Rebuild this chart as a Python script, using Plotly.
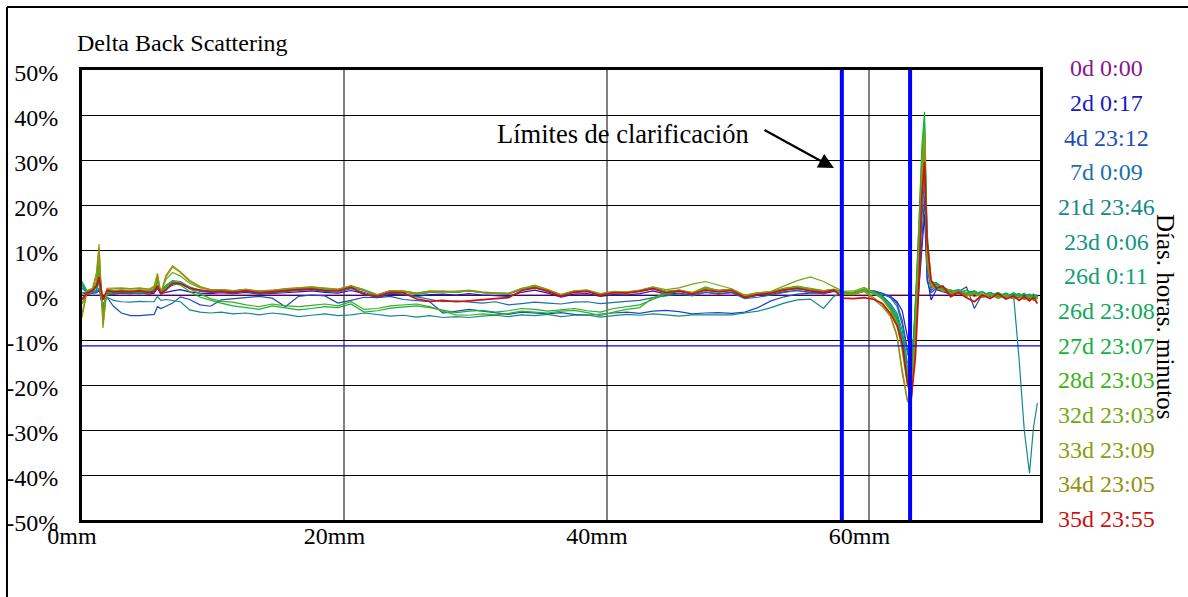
import plotly.graph_objects as go

# Position along the sample (mm)
X_MM = [
    0.0, 0.4, 0.8, 1.1, 1.3, 1.45, 1.6, 1.9, 2.4, 3.0, 3.7, 4.4, 5.1, 5.5, 5.75, 6.0, 6.4, 6.9, 7.5, 8.2, 9.0, 9.8,
    10.6, 11.5, 12.5, 13.5, 14.5, 15.5, 16.5, 17.5, 18.5, 19.5, 20.5, 21.5, 22.5, 23.5, 24.5, 25.5, 26.5, 27.5,
    28.5, 29.5, 30.5, 31.5, 32.5, 33.5, 34.5, 35.5, 36.5, 37.5, 38.5, 39.5, 40.5, 41.5, 42.5, 43.5, 44.5, 45.5,
    46.5, 47.5, 48.5, 49.5, 50.5, 51.5, 52.5, 53.5, 54.5, 55.5, 56.5,
    57.3, 58.0, 58.8, 59.6, 60.4, 61.0, 61.6, 62.1, 62.5, 62.9, 63.2, 63.5, 63.8, 64.0, 64.2, 64.4, 64.7, 65.1,
    65.6, 66.2, 66.8, 67.4, 68.0, 68.6, 69.2, 69.8, 70.4, 71.0, 71.4, 71.8, 72.2, 72.5, 72.8,
]

# Reference scan (delta is zero by definition)
REF_X_MM = [0.0, 72.8]
S_0D_0000 = [0.0, 0.0]

S_2D_0017 = [
    0.5, 0.2, 0.4, 0.5, 1.0, 0.3, -0.5, 0.3, 0.2, 0.4, 0.3, 0.5, 0.2, 0.4, 1.5, 0.2, 0.6, 0.9, 1.2, 0.7, 0.4, 0.3,
    0.5, 0.3, 0.6, 0.2, 0.3, 0.5, 0.7, 0.9, 0.6, 0.4, 1.0, 0.3, -0.6, 0.2, 0.1, -0.3, 0.1, 0.2, 0.0, 0.3,
    0.0, -0.2, -0.3, 0.6, 1.1, 0.4, -0.5, 0.2, 0.3, -0.3, 0.1, 0.0, 0.3, 0.9, 0.2, 0.4, -0.1, 0.6, 0.3, 0.6,
    -0.6, -0.1, 0.1, 0.7, 1.0, 0.6, 0.3,
    0.8, 0.5, 0.6, 0.9, 0.6, 0.3, -0.3, -1.5, -3.5, -9.3, -13.7, -9.0, 3.0, 10.0, 18.0, 4.0, -1.1, 1.2, 0.8, 0.2,
    0.5, -0.2, 0.3, -0.5, 0.0, -0.6, -0.2, -0.8, -0.3, -0.9, -0.4, -1.0, -0.6,
]

S_4D_2312 = [
    -1.0, 0.3, 0.5, 0.5, 1.0, 0.0, -1.0, -0.5, -2.5, -4.0, -4.6, -4.6, -4.4, -4.3, -2.6, -3.0, -2.5, -1.8, -0.4, -1.0, -2.2, -2.5,
    -1.1, -0.8, -0.5, -0.3, -0.7, -2.6, -0.3, 0.0, -0.2, -1.8, -1.2, -0.5, -0.6, -0.3, -1.0, -1.2, -1.5, -4.0, -3.6, -3.2,
    -3.6, -4.0, -4.3, -3.8, -4.0, -4.2, -3.9, -4.3, -4.5, -4.2, -4.0, -3.8, -4.1, -3.6, -3.4, -3.7, -4.2, -4.0, -3.9, -4.1,
    -3.8, -2.8, -1.3, -0.4, 0.2, 0.4, 0.6,
    1.0, 0.6, 0.5, 1.0, 0.9, 0.4, -0.4, -1.9, -5.6, -12.2, -17.0, -7.0, 4.0, 12.0, 22.0, 3.0, 0.5, 1.5, 1.0, 0.3,
    0.8, 1.8, -3.0, 0.2, -0.3, 0.4, -0.5, 0.1, -0.6, -0.2, -0.9, -0.3, -0.7,
]

S_7D_0009 = [
    -2.0, 0.5, 0.8, 0.6, 1.5, -0.5, -1.0, 0.0, 0.3, 0.5, 0.4, 0.3, 0.5, 0.6, 1.8, 0.8, 1.5, 2.2, 2.5, 1.5, 0.8, 0.6,
    0.7, 0.4, 0.8, 0.3, 0.5, 0.8, 1.0, 1.2, 0.8, 0.6, 1.4, 0.6, -0.4, 0.4, 0.2, -0.4, -1.0, -1.5, -1.3, -1.6,
    -1.8, -1.5, -2.2, -1.9, -1.6, -1.8, -2.0, -1.6, -1.5, -1.9, -1.6, -1.4, -1.2, -0.6, -0.2, 0.3, -0.2, 0.7, 0.2, 0.5,
    -0.8, -0.5, 0.0, 0.6, 1.0, 0.5, 0.4,
    1.2, 0.7, 0.4, 1.1, 0.8, 0.2, -0.6, -2.5, -6.5, -13.0, -15.0, -5.0, 8.0, 18.0, 26.0, 6.0, 1.0, 2.0, 1.2, 0.6,
    1.0, 0.2, 0.6, -0.4, 0.5, -0.2, 0.3, -0.5, 0.2, -0.6, 0.0, -0.7, -0.2,
]

S_21D_2346 = [
    2.5, 0.2, 0.5, 1.0, 3.0, -1.0, -2.0, -0.5, -1.2, -1.5, -1.6, -1.4, -1.5, -1.5, -0.3, -1.2, -1.0, -1.2, -1.5, -3.3, -3.8, -4.0,
    -3.8, -4.2, -4.0, -4.4, -4.0, -4.3, -4.8, -4.5, -4.2, -4.6, -4.4, -4.0, -4.3, -4.7, -4.5, -4.9, -4.6, -5.0, -4.8, -5.0,
    -4.7, -4.5, -4.8, -4.4, -4.6, -4.3, -4.8, -4.5, -4.4, -4.9, -4.6, -4.3, -4.5, -4.2, -4.4, -4.7, -4.4, -4.4, -4.3, -4.4,
    -4.0, -3.6, -2.8, -1.8, -1.1, -0.9, -3.0,
    -0.3, 0.5, 0.2, 0.8, 0.5, -0.2, -1.9, -4.0, -7.8, -15.0, -16.0, -3.0, 10.0, 22.0, 29.0, 7.0, 1.5, 2.4, 1.8, 0.8,
    1.2, 0.4, 0.9, 0.0, 0.6, -0.3, 0.4, -0.5, -14.0, -30.0, -39.6, -29.5, -24.0,
]

S_23D_0006 = [
    1.5, 0.5, 0.8, 1.0, 3.5, -1.0, -2.5, 0.0, 0.4, 0.6, 0.5, 0.7, 0.4, 0.8, 2.0, 1.0, 2.2, 3.2, 3.0, 1.8, 1.0, 0.8,
    1.1, 0.8, 1.2, 0.7, 0.9, 1.3, 1.4, 1.6, 1.1, 1.1, 1.7, 1.0, -0.1, 0.9, 0.7, 0.3, 0.7, 0.8, 0.6, 1.0,
    0.6, 0.4, 0.3, 1.3, 1.6, 1.1, 0.0, 0.8, 1.0, 0.2, 0.6, 0.6, 0.9, 1.4, 0.8, 1.0, 0.5, 1.3, 1.0, 1.2,
    -0.2, 0.4, 0.6, 1.1, 1.4, 1.2, 0.8,
    1.1, 0.6, 0.5, 1.0, 0.6, -0.3, -2.2, -4.5, -9.0, -16.0, -18.0, -4.0, 13.0, 26.0, 33.0, 9.0, 2.5, 2.8, 1.5, 1.0,
    0.4, 1.0, 0.2, 0.7, -0.2, 0.5, -0.4, 0.3, -0.5, 0.2, -0.6, 0.1, -0.5,
]

S_26D_0011 = [
    2.0, 0.6, 0.9, 1.5, 4.5, -0.5, -3.0, 0.5, 0.6, 0.8, 0.7, 0.9, 0.6, 0.9, 2.2, 0.7, 2.0, 3.0, 2.6, 1.6, 1.1, 0.9,
    1.0, 0.9, 1.1, 0.8, 0.8, 1.2, 1.5, 1.7, 1.3, 1.0, 1.9, 1.1, 0.0, 0.8, 0.8, 0.2, 0.6, 0.7, 0.7, 0.9,
    0.5, 0.3, 0.2, 1.4, 1.7, 1.0, -0.1, 0.7, 0.9, 0.1, 0.7, 0.5, 1.0, 1.6, 0.7, 1.1, 0.4, 1.4, 0.9, 1.3,
    -0.3, 0.3, 0.5, 1.3, 1.5, 1.1, 0.7,
    1.0, 0.4, 0.3, 0.9, 0.4, -0.5, -2.6, -5.0, -9.5, -17.0, -19.5, -4.0, 14.0, 28.0, 35.0, 10.0, 2.0, 2.6, 1.4, 0.7,
    1.1, 0.3, 0.8, -0.1, 0.6, -0.4, 0.3, -0.3, 0.4, -0.5, 0.1, -0.6, -0.2,
]

S_26D_2308 = [
    3.0, 0.8, 1.0, 2.0, 5.5, 0.0, -3.5, 0.8, 0.8, 1.0, 0.8, 1.0, 0.7, 1.2, 3.5, 0.5, 1.8, 2.8, 2.4, 1.5, 1.0, 0.9,
    1.2, 0.8, 1.2, 0.7, 1.0, 1.2, 1.4, 1.6, 1.4, 1.1, 2.0, 1.0, -0.2, 0.8, 0.7, 0.2, 0.6, 0.8, 0.6, 0.9,
    0.5, 0.4, 0.2, 1.3, 2.0, 1.0, 0.0, 0.7, 0.9, 0.1, 0.6, 0.5, 0.9, 1.7, 0.7, 1.0, 0.4, 1.5, 1.0, 1.2,
    -0.3, 0.3, 0.6, 1.4, 1.7, 1.2, 0.9,
    1.2, 0.5, 0.4, 1.2, 0.3, -0.7, -2.8, -5.2, -10.0, -17.5, -20.0, -3.0, 17.0, 31.0, 38.0, 12.0, 2.5, 2.2, 1.8, 0.6,
    1.0, 0.2, 0.9, -0.2, 0.5, -0.5, 0.4, -0.4, 0.3, -0.6, 0.2, -0.5, 0.0,
]

S_27D_2307 = [
    0.5, 0.6, 1.2, 2.5, 7.5, 0.0, -4.5, 0.5, 0.6, 0.8, 0.7, 0.8, 0.6, 1.0, 3.0, 0.4, 1.6, 2.6, 2.2, 0.8, -0.5, -1.2,
    -1.8, -2.4, -2.8, -3.2, -2.4, -2.9, -3.3, -3.0, -2.6, -2.8, -2.0, -3.8, -3.5, -2.9, -2.7, -2.4, -2.8, -3.4, -3.9, -3.6,
    -3.4, -3.8, -3.5, -3.0, -3.2, -3.6, -3.3, -3.0, -3.5, -3.8, -3.0, -2.6, -2.2, -1.0, 0.2, 0.8, 0.3, 1.2, 0.8, 1.0,
    -0.2, 0.4, 0.5, 1.2, 1.4, 1.0, 0.8,
    1.0, 0.4, 0.3, 1.0, 0.2, -0.8, -3.0, -5.5, -10.5, -18.0, -21.0, -4.0, 18.0, 33.0, 40.7, 14.0, 3.0, 2.6, 1.6, 1.0,
    0.5, 1.1, 0.3, 0.8, -0.2, 0.6, -0.3, 0.5, -0.2, 0.4, -0.5, 0.2, -0.4,
]

S_28D_2303 = [
    -1.0, 0.7, 1.0, 2.0, 6.0, 0.0, -4.0, 0.5, 0.7, 0.9, 0.8, 1.0, 0.8, 1.2, 3.5, 0.6, 2.0, 3.0, 2.5, 1.4, 0.2, -0.8,
    -1.4, -1.6, -2.2, -2.6, -2.0, -2.4, -2.6, -2.3, -2.0, -2.4, -1.5, -3.2, -3.0, -2.4, -2.2, -2.0, -2.6, -3.6, -4.4, -4.5,
    -4.2, -4.4, -4.1, -3.6, -3.8, -4.0, -3.6, -3.4, -3.9, -4.6, -3.8, -3.2, -2.8, -0.6, 0.4, 1.0, 0.5, 1.8, 1.0, 1.1,
    -0.1, 0.5, 0.7, 1.5, 2.0, 1.5, 1.0,
    1.3, 0.6, 0.6, 1.4, 0.3, -0.9, -3.2, -6.0, -11.5, -19.0, -21.5, -6.0, 15.0, 30.0, 37.0, 10.0, 2.5, 2.0, 1.2, 0.5,
    0.9, -0.1, 0.6, -0.4, 0.3, -0.6, 0.1, -0.7, 0.0, -0.8, -0.3, -1.0, -0.5,
]

S_32D_2303 = [
    -2.0, 0.8, 1.2, 3.0, 8.5, 1.0, -5.0, 1.0, 1.0, 1.2, 1.0, 1.2, 1.0, 1.5, 4.0, 0.5, 3.5, 5.0, 4.2, 2.6, 1.6, 1.2,
    1.2, 0.9, 1.3, 0.8, 1.0, 1.4, 1.6, 1.8, 1.4, 1.2, 2.0, 1.1, 0.0, 1.0, 0.8, 0.4, 0.8, 0.8, 0.7, 1.0,
    0.6, 0.4, 0.3, 1.4, 2.2, 1.2, 0.1, 0.9, 1.1, 0.3, 0.8, 0.7, 1.1, 1.8, 1.2, 1.6, 2.4, 3.0, 2.2, 1.4,
    0.0, 0.5, 0.8, 2.0, 3.2, 4.0, 3.0,
    1.8, 0.8, 0.9, 1.7, 0.5, -1.0, -3.4, -6.5, -12.5, -20.0, -22.0, -8.0, 13.0, 28.0, 36.0, 9.0, 2.0, 1.8, 1.0, 0.3,
    0.7, -0.3, 0.4, -0.6, 0.1, -0.8, -0.1, -0.9, -0.3, -1.0, -0.4, -1.2, -0.6,
]

S_33D_2309 = [
    -4.0, 1.0, 1.5, 5.0, 11.3, 2.0, -7.3, 1.5, 1.5, 1.6, 1.4, 1.6, 1.3, 2.0, 4.8, 0.4, 4.4, 6.5, 5.2, 3.3, 1.9, 1.2,
    1.2, 1.0, 1.2, 0.9, 1.1, 1.4, 1.6, 1.8, 1.5, 1.3, 2.1, 1.2, 0.1, 1.0, 0.9, 0.4, 0.9, 0.9, 0.8, 1.1,
    0.7, 0.5, 0.4, 1.5, 2.1, 1.2, 0.1, 0.9, 1.1, 0.2, 0.7, 0.6, 1.0, 1.7, 0.8, 1.1, 0.6, 1.5, 1.1, 1.3,
    -0.2, 0.4, 0.6, 1.4, 1.8, 1.3, 0.9,
    1.2, 0.3, 0.2, 1.0, -0.8, -2.2, -4.5, -8.8, -16.5, -23.3, -23.5, -10.0, 10.0, 26.0, 35.0, 8.0, 2.5, 2.0, 0.8, 1.2,
    0.2, 0.6, -0.4, 0.3, -0.7, 0.0, -0.8, -0.2, -1.0, -0.4, -1.1, -0.5, -1.2,
]

S_34D_2305 = [
    -5.0, 0.9, 1.4, 4.0, 10.5, 0.5, -6.5, 1.2, 1.4, 1.5, 1.3, 1.5, 1.2, 1.8, 4.5, 0.3, 4.0, 6.2, 5.0, 3.0, 1.8, 1.1,
    1.1, 0.9, 1.1, 0.8, 1.0, 1.3, 1.5, 1.7, 1.4, 1.2, 2.0, 1.1, 0.0, 0.9, 0.8, 0.3, 0.8, 0.8, 0.7, 1.0,
    0.6, 0.4, 0.3, 1.4, 2.0, 1.1, 0.0, 0.8, 1.0, 0.1, 0.6, 0.5, 0.9, 1.6, 0.7, 1.0, 0.5, 1.3, 1.0, 1.2,
    -0.3, 0.3, 0.5, 1.3, 1.7, 1.2, 0.8,
    1.1, 0.2, 0.1, 0.8, -1.1, -2.6, -4.8, -9.3, -17.4, -23.8, -23.0, -11.0, 8.0, 24.0, 33.0, 7.0, 2.0, 1.6, 1.1, 0.4,
    0.8, -0.2, 0.5, -0.5, 0.2, -0.7, 0.0, -0.8, -0.2, -0.9, -0.3, -1.0, -0.7,
]

S_35D_2355 = [
    -1.0, 0.5, 1.0, 2.0, 4.0, 1.5, -1.0, 1.0, 0.7, 0.8, 0.7, 0.9, 0.6, 0.8, 2.0, 0.4, 1.1, 2.6, 2.6, 1.5, 1.1, 0.7,
    0.8, 0.6, 0.9, 0.5, 0.7, 1.0, 1.2, 1.3, 1.0, 0.9, 1.7, 0.1, -0.3, 0.6, 0.5, -0.9, -1.4, -1.2, -1.5, -1.3,
    -1.0, -0.8, -0.6, 1.0, 1.6, 0.8, -0.3, 0.6, 0.8, -0.1, 0.5, 0.4, 0.8, 1.4, 0.5, 0.9, 0.2, 1.1, 0.7, 1.0,
    -0.5, 0.1, 0.4, 1.1, 1.5, 0.9, 0.6,
    1.1, -0.7, -0.8, -0.6, -1.0, -1.9, -4.1, -6.8, -10.7, -19.6, -22.6, -14.0, 4.0, 22.0, 29.6, 12.0, 3.3, 1.5, 2.0, -0.4,
    0.6, -0.6, -1.5, 0.0, -0.8, 0.3, -0.9, -0.2, -1.2, -0.4, -1.3, -0.6, -1.9,
]

LABELS = [
    "0d 0:00", "2d 0:17", "4d 23:12", "7d 0:09", "21d 23:46", "23d 0:06", "26d 0:11",
    "26d 23:08", "27d 23:07", "28d 23:03", "32d 23:03", "33d 23:09", "34d 23:05", "35d 23:55",
]
COLORS = [
    "#8c148c", "#1a1ac8", "#1c4cb8", "#1c70a8", "#14888f", "#139484", "#0fa070",
    "#10a85c", "#14b040", "#3cb018", "#72a814", "#8c9c10", "#969010", "#d01010",
]
SERIES = [
    S_0D_0000, S_2D_0017, S_4D_2312, S_7D_0009, S_21D_2346, S_23D_0006, S_26D_0011,
    S_26D_2308, S_27D_2307, S_28D_2303, S_32D_2303, S_33D_2309, S_34D_2305, S_35D_2355,
]

X_TICKS = [0, 20, 40, 60]
X_TICK_TEXT = ["0mm", "20mm", "40mm", "60mm"]
Y_TICKS = [-50, -40, -30, -20, -10, 0, 10, 20, 30, 40, 50]
Y_TICK_TEXT = ["-50%", "-40%", "-30%", "-20%", "-10%", "0%", "10%", "20%", "30%", "40%", "50%"]

CLARIFICATION_LIMITS_MM = [57.9, 63.1]
THRESHOLD_PCT = -11.3

FONT = "Liberation Serif"

fig = go.Figure()
for label, color, ys in zip(LABELS, COLORS, SERIES):
    xs = REF_X_MM if ys is S_0D_0000 else X_MM
    fig.add_trace(go.Scatter(
        x=xs, y=ys, mode="lines", name=label,
        line=dict(color=color, width=1.7 if label == "35d 23:55" else 1.2),
        hoverinfo="skip", showlegend=False,
    ))

# clarification limits and threshold
for xm in CLARIFICATION_LIMITS_MM:
    fig.add_shape(type="line", xref="x", yref="paper", x0=xm, x1=xm, y0=0, y1=1,
                  line=dict(color="#0000ff", width=4), layer="above")
fig.add_shape(type="line", xref="paper", yref="y", x0=0, x1=1, y0=THRESHOLD_PCT, y1=THRESHOLD_PCT,
              line=dict(color="#0000ff", width=1.3), layer="above")

# outer frame
fig.add_shape(type="line", xref="paper", yref="paper", x0=-0.0783, x1=1.2, y0=1.14, y1=1.14,
              line=dict(color="black", width=2))
fig.add_shape(type="line", xref="paper", yref="paper", x0=-0.0783, x1=-0.0783, y0=1.14, y1=-0.2,
              line=dict(color="black", width=2))

PX_X0, PX_W, PX_Y1, PX_H = 82.0, 958.0, 520.0, 450.0


def px_to_paper(px, py):
    return (px - PX_X0) / PX_W, (PX_Y1 - py) / PX_H


annotations = []
tx, ty = px_to_paper(182, 43)
annotations.append(dict(text="Delta Back Scattering", x=tx, y=ty, xref="paper", yref="paper",
                        showarrow=False, xanchor="center", yanchor="middle",
                        font=dict(family=FONT, size=24, color="black")))

for i, (label, color) in enumerate(zip(LABELS, COLORS)):
    lx, ly = px_to_paper(1106, 68.5 + i * 34.65)
    annotations.append(dict(text=label, x=lx, y=ly, xref="paper", yref="paper", showarrow=False,
                            xanchor="center", yanchor="middle",
                            font=dict(family=FONT, size=24, color=color)))

rx, ry = px_to_paper(1166, 317)
annotations.append(dict(text="Días. horas. minutos", x=rx, y=ry, xref="paper", yref="paper",
                        showarrow=False, textangle=90, xanchor="center", yanchor="middle",
                        font=dict(family=FONT, size=25, color="black")))

cx, cy = px_to_paper(623, 134)
annotations.append(dict(text="Límites de clarificación", x=cx, y=cy, xref="paper", yref="paper",
                        showarrow=False, xanchor="center", yanchor="middle",
                        font=dict(family=FONT, size=26.5, color="black")))
annotations.append(dict(text="", x=57.3, y=28.2, xref="x", yref="y", showarrow=True,
                        ax=-71, ay=-39, arrowhead=2, arrowsize=1.4, arrowwidth=2.2,
                        arrowcolor="black", standoff=0))

fig.update_layout(
    width=1188, height=597,
    margin=dict(l=82, r=148, t=70, b=77, autoexpand=False),
    paper_bgcolor="white", plot_bgcolor="white",
    font=dict(family=FONT, size=24, color="black"),
    annotations=annotations,
    xaxis=dict(range=[0, 73.0], tickvals=X_TICKS, ticktext=X_TICK_TEXT, showgrid=True,
               gridcolor="#808080", gridwidth=2, zeroline=False, showline=True, linecolor="black",
               linewidth=3, mirror=True, ticks="", ticklabelshift=-10, ticklabelstandoff=-8,
               automargin=False, tickfont=dict(family=FONT, size=24, color="black")),
    yaxis=dict(range=[-50, 50], tickvals=Y_TICKS, ticktext=Y_TICK_TEXT, showgrid=True,
               gridcolor="black", gridwidth=1.3, zeroline=False, showline=True, linecolor="black",
               linewidth=3, mirror=True, ticks="", ticklabelstandoff=16, ticklabelshift=3,
               automargin=False, tickfont=dict(family=FONT, size=24, color="black")),
)

fig.write_html("out.html")
